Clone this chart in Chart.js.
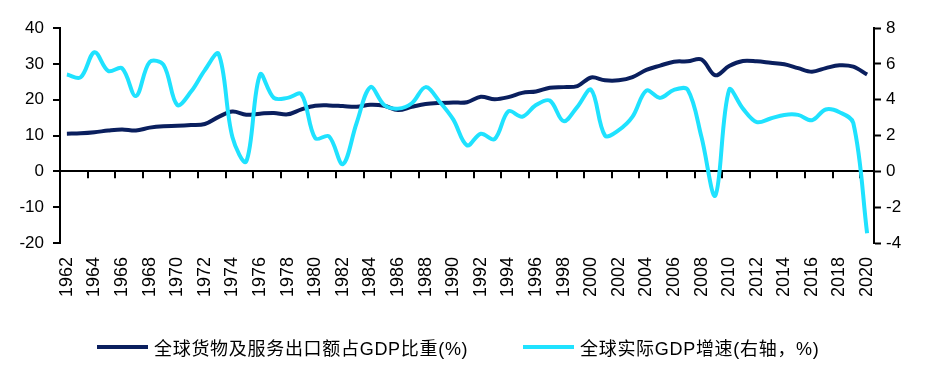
<!DOCTYPE html>
<html>
<head>
<meta charset="utf-8">
<script src="https://cdn.jsdelivr.net/npm/chart.js@4"></script>
<style>
  body { margin: 0; background: #fff; }
  #wrap { position: relative; width: 927px; height: 372px; }
  #chart { position: absolute; left: 0; top: 0; }
  .legend-item {
    position: absolute;
    top: 336px;
    height: 22px;
    display: flex;
    align-items: center;
    font-family: 'Liberation Sans', 'Noto Sans CJK SC', sans-serif;
    font-size: 18px;
    letter-spacing: 0.7px;
    color: #000;
    white-space: nowrap;
  }
  .legend-line { display: inline-block; width: 51px; height: 4px; margin-right: 6px; }
</style>
</head>
<body>
<div id="wrap">
  <canvas id="chart" width="927" height="372"></canvas>
  <div class="legend-item" style="left: 97px;">
    <span class="legend-line" style="background: #0a1f5e;"></span>全球货物及服务出口额占GDP比重(%)
  </div>
  <div class="legend-item" style="left: 523px;">
    <span class="legend-line" style="background: #1fe2ff;"></span>全球实际GDP增速(右轴，%)
  </div>
</div>
<script>
const years = [
  '1962', '1963', '1964', '1965', '1966', '1967', '1968', '1969', '1970', '1971',
  '1972', '1973', '1974', '1975', '1976', '1977', '1978', '1979', '1980', '1981',
  '1982', '1983', '1984', '1985', '1986', '1987', '1988', '1989', '1990', '1991',
  '1992', '1993', '1994', '1995', '1996', '1997', '1998', '1999', '2000', '2001',
  '2002', '2003', '2004', '2005', '2006', '2007', '2008', '2009', '2010', '2011',
  '2012', '2013', '2014', '2015', '2016', '2017', '2018', '2019', '2020',
];

// 全球货物及服务出口额占GDP比重(%)，左轴
const exportShare = [
  10.5, 10.6, 10.9, 11.4, 11.7, 11.4, 12.2, 12.6, 12.7, 12.9,
  13.2, 15.2, 16.7, 15.8, 16.1, 16.3, 15.9, 17.3, 18.3, 18.4,
  18.2, 18.0, 18.6, 18.3, 17.1, 18.0, 18.8, 19.1, 19.2, 19.3,
  20.8, 20.1, 20.7, 21.9, 22.3, 23.3, 23.5, 23.8, 26.2, 25.4,
  25.4, 26.3, 28.3, 29.5, 30.6, 30.7, 31.2, 26.8, 29.4, 30.8,
  30.7, 30.3, 29.9, 28.8, 27.8, 28.8, 29.6, 29.2, 27.0,
];

// 全球实际GDP增速(%)，右轴
const gdpGrowth = [
  5.4, 5.25, 6.65, 5.6, 5.75, 4.2, 6.1, 5.95, 3.7, 4.45,
  5.65, 6.55, 1.9, 0.55, 5.4, 4.1, 4.1, 4.3, 1.85, 1.95,
  0.4, 2.7, 4.7, 3.7, 3.5, 3.8, 4.7, 3.9, 2.9, 1.45,
  2.1, 1.8, 3.35, 3.05, 3.7, 3.95, 2.8, 3.6, 4.55, 2.0,
  2.3, 3.05, 4.5, 4.1, 4.55, 4.55, 1.9, -1.35, 4.55, 3.5,
  2.75, 2.95, 3.15, 3.15, 2.85, 3.45, 3.3, 2.7, -3.45,
];

const leftTicks = [-20, -10, 0, 10, 20, 30, 40];
const rightTicks = [-4, -2, 0, 2, 4, 6, 8];

const tickFont = { family: "'Liberation Sans', Arial, sans-serif", size: 17 };
const yearFont = { family: "'Liberation Sans', Arial, sans-serif", size: 18 };

// tick marks under the zero line, every two years
const zeroTicks = {
  id: 'zeroTicks',
  beforeDatasetsDraw(chart) {
    const { ctx, scales: { x, y } } = chart;
    const y0 = y.getPixelForValue(0);
    ctx.save();
    ctx.strokeStyle = '#000';
    ctx.lineWidth = 2;
    for (let i = 2; i < years.length; i += 2) {
      const px = Math.round((x.getPixelForValue(i - 1) + x.getPixelForValue(i)) / 2);
      ctx.beginPath();
      ctx.moveTo(px, y0);
      ctx.lineTo(px, y0 + 7);
      ctx.stroke();
    }
    ctx.restore();
  },
};

new Chart(document.getElementById('chart'), {
  type: 'line',
  plugins: [zeroTicks],
  data: {
    labels: years,
    datasets: [
      {
        label: '全球实际GDP增速(右轴，%)',
        data: gdpGrowth,
        borderColor: '#1fe2ff',
        borderWidth: 4,
        pointRadius: 0,
        tension: 0.35,
        yAxisID: 'y1',
        order: 0,
      },
      {
        label: '全球货物及服务出口额占GDP比重(%)',
        data: exportShare,
        borderColor: '#0a1f5e',
        borderWidth: 4,
        pointRadius: 0,
        tension: 0.35,
        yAxisID: 'y',
        order: 1,
      },
    ],
  },
  options: {
    responsive: false,
    animation: false,
    devicePixelRatio: 1,
    layout: { padding: { top: 28, left: 0, right: 0, bottom: 0 } },
    plugins: {
      legend: { display: false },
      tooltip: { enabled: false },
    },
    scales: {
      x: {
        type: 'category',
        offset: true,
        grid: { display: false, drawTicks: false },
        border: { display: false },
        ticks: {
          autoSkip: false,
          minRotation: 90,
          maxRotation: 90,
          padding: 14,
          color: '#000',
          font: yearFont,
          callback: (val, i) => (i % 2 === 0 ? years[i] : ''),
        },
        afterFit: (scale) => { scale.height = 129; },
      },
      y: {
        position: 'left',
        min: leftTicks[0],
        max: leftTicks[leftTicks.length - 1],
        afterBuildTicks: (scale) => { scale.ticks = leftTicks.map((v) => ({ value: v })); },
        border: { display: true, color: '#000', width: 2 },
        grid: {
          color: (c) => (c.tick && c.tick.value === 0 ? '#000' : 'rgba(0,0,0,0)'),
          lineWidth: 2,
          tickColor: '#000',
          tickWidth: 2,
          tickLength: 7,
        },
        ticks: { color: '#000', font: tickFont, padding: 9 },
        afterFit: (scale) => { scale.width = 60; },
      },
      y1: {
        position: 'right',
        min: rightTicks[0],
        max: rightTicks[rightTicks.length - 1],
        afterBuildTicks: (scale) => { scale.ticks = rightTicks.map((v) => ({ value: v })); },
        border: { display: true, color: '#000', width: 2 },
        grid: {
          drawOnChartArea: false,
          tickColor: '#000',
          tickWidth: 2,
          tickLength: 7,
        },
        ticks: { color: '#000', font: tickFont, padding: 5 },
        afterFit: (scale) => { scale.width = 53; },
      },
    },
  },
});
</script>
</body>
</html>
